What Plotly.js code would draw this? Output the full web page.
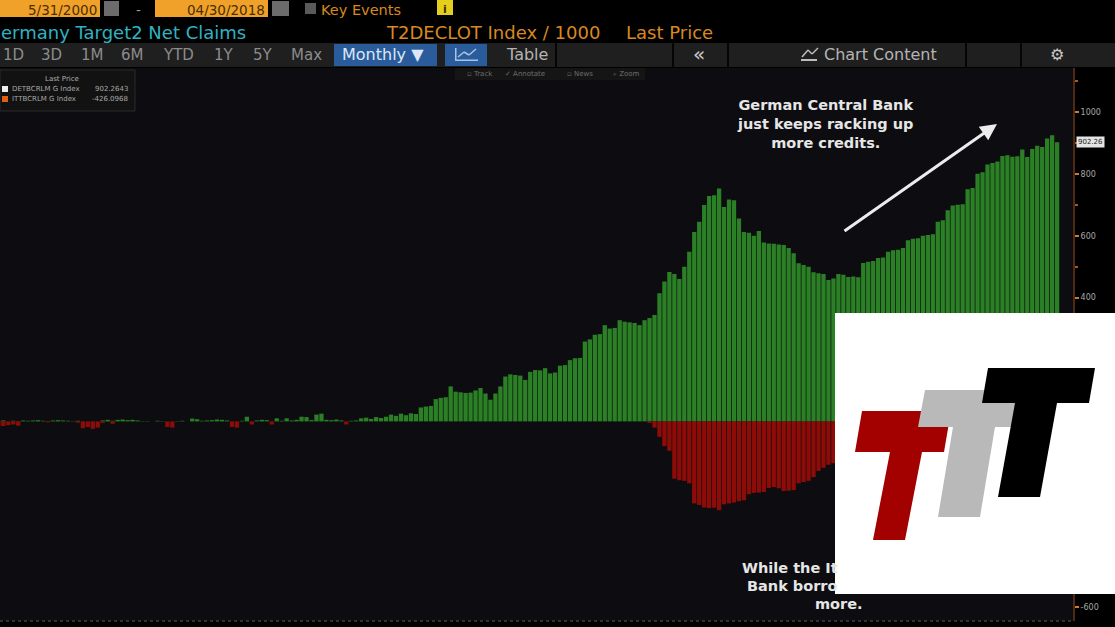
<!DOCTYPE html>
<html><head><meta charset="utf-8">
<script src="https://cdn.plot.ly/plotly-3.0.1.min.js"></script>
<style>html,body{margin:0;padding:0;background:#000;}#chart{width:1115px;height:627px;}</style>
</head><body><div id="chart"></div>
<script>
// ---------------- DATA ----------------
const startYear = 2000, startMonth = 5, monthCount = 216; // 2000-05 .. 2018-04
const months = [];
for (let k = 0; k < monthCount; k++) {
  const m = startMonth - 1 + k;
  const yy = startYear + Math.floor(m / 12);
  const mm = (m % 12) + 1;
  months.push(yy + '-' + (mm < 10 ? '0' : '') + mm);
}
// Germany Target2 net claims (EUR bn), monthly
const germany = [
  4,2,1,3,0,2,1,3,                                   // 2000 May-Dec
  2,3,4,2,1,3,4,3,2,1,2,0,                           // 2001
  0,0,0,3,5,2,5,6,4,5,3,1,                           // 2002
  1,0,2,1,0,0,1,2,0,9,7,2,                           // 2003
  3,4,6,5,3,0,0,2,15,0,3,5,                          // 2004
  4,0,10,2,10,3,5,15,14,4,22,25,                     // 2005
  5,4,6,3,0,2,3,10,12,8,14,11,                       // 2006
  15,22,18,25,20,26,24,45,48,50,72,76,               // 2007
  78,113,96,94,92,93,100,108,90,70,90,113,           // 2008
  145,152,150,148,134,160,166,165,172,155,158,180,   // 2009
  182,198,204,205,258,265,280,282,311,300,302,327,   // 2010
  322,320,318,311,327,334,344,414,452,483,476,460,   // 2011
  500,548,612,645,699,728,731,753,693,717,715,656,   // 2012
  612,610,600,615,578,575,574,572,570,560,543,511,   // 2013
  505,500,482,479,476,457,462,476,474,467,468,466,   // 2014
  512,516,518,528,530,548,553,555,560,585,590,592,   // 2015
  600,602,605,645,650,682,698,700,702,750,754,800,   // 2016
  805,830,835,840,858,860,855,857,879,854,880,891,   // 2017
  887,914,925,902.2643                               // 2018 Jan-Apr
];
// Italy Target2 net claims (EUR bn), monthly
const italy = [
  0,-12,-14,-15,-12,-10,-14,0,                       // 2000 May-Dec
  0,0,0,0,-3,0,0,0,0,0,-4,-22,                       // 2001
  -18,-24,-20,-5,0,-8,0,0,0,0,0,0,                   // 2002
  0,0,0,0,-18,-20,0,0,0,0,0,0,                       // 2003
  0,0,0,0,0,-18,-20,0,0,-10,0,0,                     // 2004
  0,-10,0,0,0,0,0,0,0,0,0,0,                         // 2005
  0,0,0,0,-10,0,0,0,0,0,0,0,                         // 2006
  0,0,0,0,0,0,0,0,0,0,0,0,                           // 2007
  0,0,0,0,0,0,0,0,0,0,0,0,                           // 2008
  0,0,0,0,0,0,0,0,0,0,0,0,                           // 2009
  0,0,0,0,0,0,0,0,0,0,0,0,                           // 2010
  0,0,0,0,0,-5,-20,-50,-80,-95,-185,-190,            // 2011
  -192,-200,-265,-270,-278,-280,-279,-287,-268,-265,-262,-258, // 2012
  -255,-235,-231,-230,-228,-215,-212,-216,-225,-224,-222,-200, // 2013
  -196,-192,-180,-160,-150,-140,-135,-160,-175,-190,-205,-209, // 2014
  -215,-230,-220,-225,-230,-240,-250,-230,-230,-240,-245,-244, // 2015
  -245,-250,-260,-265,-290,-320,-325,-328,-330,-355,-356,-357, // 2016
  -365,-385,-415,-415,-420,-430,-438,-420,-417,-430,-443,-432, // 2017
  -440,-445,-438,-426.0968                           // 2018 Jan-Apr
];
const yTickVals = [-600,-400,-200,0,200,400,600,800,1000];
const yTickText = ['-600','-400','-200','0','200','400','600','800','1000'];
const germanyTicker = 'DETBCRLM G Index';
const italyTicker = 'ITTBCRLM G Index';
const germanyLast = 902.2643;
const italyLast = -426.0968;
const periodButtons = ['1D','3D','1M','6M','YTD','1Y','5Y','Max'];

// ---------------- GEOMETRY HELPERS ----------------
const W = 1115, H = 627, ML = 0, MR = 42, MT = 68, MB = 6;
const PW = W - ML - MR, PH = H - MT - MB;
const px = x => (x - ML) / PW;
const py = y => (H - MB - y) / PH;

const shapes = [];
function rect(x0, y0, x1, y1, fill, lineColor, layer) {
  shapes.push({type:'rect', xref:'paper', yref:'paper', x0:px(x0), x1:px(x1), y0:py(y1), y1:py(y0),
    fillcolor:fill, line:{width: lineColor ? 1 : 0, color: lineColor || fill}, layer: layer || 'above'});
}
function poly(pts, fill) {
  const d = pts.map((p, k) => (k ? 'L' : 'M') + px(p[0]).toFixed(5) + ',' + py(p[1]).toFixed(5)).join(' ') + ' Z';
  shapes.push({type:'path', xref:'paper', yref:'paper', path:d, fillcolor:fill, line:{width:0}, layer:'above'});
}
function line(x0, y0, x1, y1, color, width, dash) {
  shapes.push({type:'line', xref:'paper', yref:'paper', x0:px(x0), x1:px(x1), y0:py(y0), y1:py(y1),
    line:{color:color, width:width, dash:dash || 'solid'}, layer:'above'});
}
const annotations = [];
function txt(text, x, y, size, color, anchor, extra) {
  annotations.push(Object.assign({text:text, xref:'paper', yref:'paper', x:px(x), y:py(y),
    xanchor: anchor || 'left', yanchor:'middle', showarrow:false, borderpad:0,
    font:{family:'DejaVu Sans, sans-serif', size:size, color:color}}, extra || {}));
}

// ---------------- TOOLBAR ----------------
rect(0, 0, 100, 17, '#f0a12a');
rect(104, 1, 119, 16, '#6c6c6c');
rect(155, 0, 268, 17, '#f0a12a');
rect(272, 1, 289, 16, '#6c6c6c');
rect(305, 3, 316, 14, '#5a5a5a');
rect(437, 0, 453, 15, '#e6cf1c');
txt('5/31/2000', 98, 10, 13.5, '#4a2e00', 'right');
txt('-', 138, 10, 13.5, '#9a9a9a', 'center');
txt('04/30/2018', 266, 10, 13.5, '#4a2e00', 'right');
txt('Key Events', 320, 10, 14.5, '#d8891f');
txt('<b>i</b>', 445, 9, 11, '#3a3000', 'center');

txt('ermany Target2 Net Claims', 0, 32, 18, '#2fb3c2');
txt('T2DECLOT Index / 1000', 385, 32, 18, '#d8891f');
txt('Last Price', 625, 32, 18, '#d8891f');

rect(0, 43, W, 67, '#1f1f1f');
[555, 672, 727, 965, 1020].forEach(x => rect(x, 43, x + 2, 67, '#050505'));
rect(334, 44, 437, 66, '#2a5c9b');
rect(445, 44, 487, 66, '#2a5c9b');
poly([[455,61],[455,48],[456.5,48],[456.5,59.5],[478,59.5],[478,61]], '#a9c3e6');
line(458, 57, 464, 52, '#a9c3e6', 1.5); line(464, 52, 469, 55, '#a9c3e6', 1.5); line(469, 55, 476, 49, '#a9c3e6', 1.5);
const btnX = [2, 40, 80, 120, 162, 213, 252, 290];
periodButtons.forEach((b, k) => txt(b, btnX[k], 55, 15, '#8c8c8c'));
txt('Monthly \u25BC', 341, 55, 16, '#dce7f7');
txt('Table', 505, 55, 16, '#b4b4b4');
txt('\u00AB', 699, 54, 20, '#c8c8c8', 'center');
line(801, 60, 817, 60, '#bdbdbd', 2); line(802, 57, 808, 50, '#bdbdbd', 1.5); line(808, 50, 812, 54, '#bdbdbd', 1.5); line(812, 54, 818, 48, '#bdbdbd', 1.5);
txt('Chart Content', 823, 55, 16, '#b4b4b4');
txt('\u2699', 1057, 55, 16, '#c8c8c8', 'center');

// track / annotate / news / zoom strip
rect(455, 68, 645, 80, '#151515');
txt('\u25AB Track', 466, 74, 7, '#6e6e6e');
txt('\u2713 Annotate', 504, 74, 7, '#6e6e6e');
txt('\u25AB News', 566, 74, 7, '#6e6e6e');
txt('\u2315 Zoom', 612, 74, 7, '#6e6e6e');

// legend box
rect(0, 70, 135, 111, '#121212', '#2a2a2a');
txt('Last Price', 62, 79, 7, '#b0b0b0', 'center');
rect(2, 86, 8, 92, '#eeeeee');
rect(2, 96, 8, 102, '#e0601a');
txt(germanyTicker, 11, 89, 7, '#a8a8a8');
txt(germanyLast.toFixed(4), 129, 89, 7, '#a8a8a8', 'right');
txt(italyTicker, 11, 99, 7, '#a8a8a8');
txt(italyLast.toFixed(4), 129, 99, 7, '#a8a8a8', 'right');

// bottom dotted axis line
line(0, 621, 1073, 621, '#5a5a5a', 1, 'dot');

// ---------------- ANNOTATIONS ON CHART ----------------
txt('<b>German Central Bank<br>just keeps racking up<br>more credits.</b>', 825, 124, 14.5, '#e6e6e6', 'center');
annotations.push({xref:'paper', yref:'paper', x:px(997), y:py(124), ax:843 - 997, ay:232 - 124,
  text:'', showarrow:true, arrowhead:2, arrowsize:1.1, arrowwidth:3, arrowcolor:'#ececec'});
txt('<b>While the It</b>', 741, 568, 14.5, '#e6e6e6');
txt('<b>Bank borro</b>', 746, 586, 14.5, '#e6e6e6');
txt('<b>more.</b>', 839, 604, 14.5, '#e6e6e6', 'center');

// last price tag
annotations.push({xref:'paper', yref:'y', x:px(1076), y:germanyLast, xanchor:'left', yanchor:'middle',
  text:germanyLast.toFixed(2), showarrow:false, bgcolor:'#e4e4e4', borderpad:1,
  font:{family:'DejaVu Sans, sans-serif', size:7, color:'#222'}});

// ---------------- LOGO ----------------
rect(835, 313, 1115, 594, '#ffffff');
poly([[862,411],[951,411],[944,452],[922,452],[905,540],[873,540],[890,452],[855,452]], '#a30000');
poly([[925,390],[1030,390],[1024,427],[995,427],[980,517],[938,517],[953,427],[918,427]], '#b9b9b9');
poly([[988,368],[1095,368],[1089,403],[1057,403],[1040,497],[998,497],[1015,403],[982,403]], '#000000');

// ---------------- TRACES ----------------
const traces = [
  {type:'bar', x:months, y:germany, name:germanyTicker, marker:{color:'#2b8026', line:{width:0}}},
  {type:'bar', x:months, y:italy, name:italyTicker, marker:{color:'#8e0c07', line:{width:0}}}
];

const layout = {
  width:W, height:H, margin:{l:ML, r:MR, t:MT, b:MB, pad:0},
  paper_bgcolor:'#000000', plot_bgcolor:'#0d0d11',
  barmode:'overlay', bargap:0.14, showlegend:false, hovermode:false,
  font:{family:'DejaVu Sans, sans-serif', color:'#aaa'},
  xaxis:{type:'category', range:[2.33, 218.2], showgrid:false, zeroline:false, showline:false,
    showticklabels:false, ticks:'', fixedrange:true},
  yaxis:{range:[-645, 1142], side:'right', showgrid:false, zeroline:false, showline:true,
    linecolor:'#4f2a10', linewidth:2, ticks:'outside', ticklen:4, tickwidth:2, tickcolor:'#d8782a',
    tickvals:yTickVals, ticktext:yTickText, tickfont:{size:8, color:'#a8a8a8'}, automargin:false,
    minor:{dtick:100, tick0:0, ticks:'outside', ticklen:3, tickwidth:2, tickcolor:'#a85a20'}, fixedrange:true},
  shapes:shapes, annotations:annotations
};
Plotly.newPlot('chart', traces, layout, {displayModeBar:false, staticPlot:true});
</script></body></html>
